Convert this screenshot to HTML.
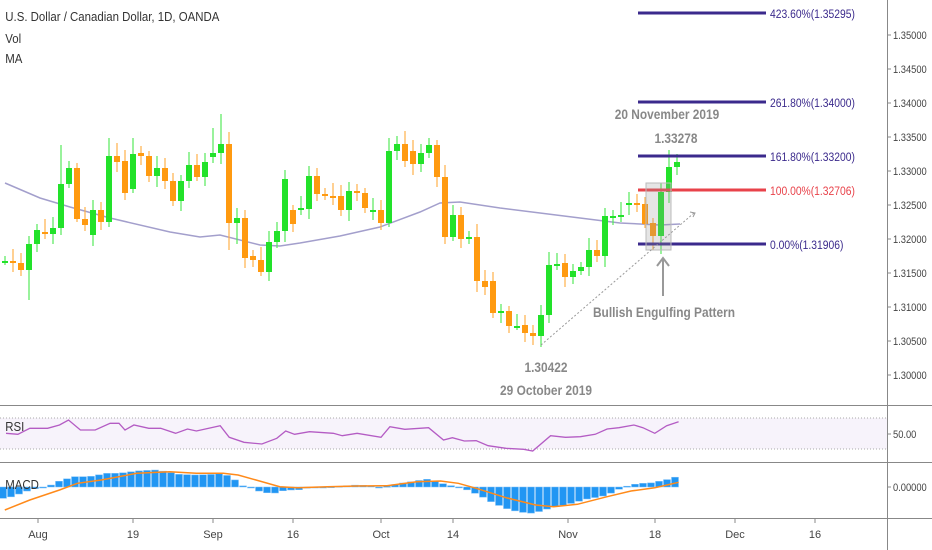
<!DOCTYPE html>
<html><head><meta charset="utf-8"><style>
html,body{margin:0;padding:0;background:#fff;width:932px;height:550px;overflow:hidden}
svg{display:block;font-family:"Liberation Sans",sans-serif}
</style></head><body>
<svg id="c" width="932" height="550" xmlns="http://www.w3.org/2000/svg">
<rect width="932" height="550" fill="#fff"/>
<rect x="0" y="418" width="887" height="31" fill="#f7f3fb"/>
<line x1="0" y1="418" x2="887" y2="418" stroke="#aaa" stroke-dasharray="1,2"/>
<line x1="0" y1="449" x2="887" y2="449" stroke="#aaa" stroke-dasharray="1,2"/>
<line x1="0" y1="405.5" x2="932" y2="405.5" stroke="#888"/>
<line x1="0" y1="462.5" x2="932" y2="462.5" stroke="#888"/>
<line x1="0" y1="518.5" x2="932" y2="518.5" stroke="#888"/>
<line x1="887.5" y1="0" x2="887.5" y2="550" stroke="#888"/>
<g id="g"></g>
<g stroke-width="3">
<line x1="638" y1="13" x2="766" y2="13" stroke="#3b2a8c"/>
<line x1="638" y1="102" x2="766" y2="102" stroke="#3b2a8c"/>
<line x1="638" y1="156" x2="766" y2="156" stroke="#3b2a8c"/>
<line x1="638" y1="190" x2="766" y2="190" stroke="#e8424a"/>
<line x1="638" y1="244" x2="766" y2="244" stroke="#3b2a8c"/>
</g>
<g font-size="12" fill="#3b2a8c" transform="translate(770,0) scale(0.86,1)">
<text x="0" y="18">423.60%(1.35295)</text>
<text x="0" y="107">261.80%(1.34000)</text>
<text x="0" y="161">161.80%(1.33200)</text>
<text x="0" y="195" fill="#e8424a">100.00%(1.32706)</text>
<text x="0" y="249">0.00%(1.31906)</text>
</g>
<rect x="646" y="183" width="25" height="67" fill="#999" fill-opacity="0.25" stroke="#bbb"/>
<line x1="541" y1="345" x2="694" y2="213" stroke="#999" stroke-dasharray="2,2"/>
<path d="M690,212 L695,213 L693,217" fill="none" stroke="#999"/>
<line x1="663" y1="259" x2="663" y2="296" stroke="#999" stroke-width="2"/>
<path d="M657,266 L663,258 L669,266" fill="none" stroke="#999" stroke-width="2"/>
<g fill="#888" font-size="14" font-weight="bold" text-anchor="middle">
<text x="664" y="317" transform="translate(664,0) scale(0.85,1) translate(-664,0)">Bullish Engulfing Pattern</text>
<text x="546" y="372" transform="translate(546,0) scale(0.85,1) translate(-546,0)">1.30422</text>
<text x="546" y="395" transform="translate(546,0) scale(0.85,1) translate(-546,0)">29 October 2019</text>
<text x="667" y="119" transform="translate(667,0) scale(0.85,1) translate(-667,0)">20 November 2019</text>
<text x="676" y="143" transform="translate(676,0) scale(0.85,1) translate(-676,0)">1.33278</text>
</g>
<g fill="#333" font-size="13" transform="scale(0.88,1)">
<text x="6" y="21">U.S. Dollar / Canadian Dollar, 1D, OANDA</text>
<text x="6" y="43">Vol</text>
<text x="6" y="63">MA</text>
<text x="6" y="431">RSI</text>
<text x="6" y="489">MACD</text>
</g>
<g fill="#444" font-size="11" transform="translate(893,0) scale(0.85,1)">
<text x="0" y="39">1.35000</text><text x="0" y="73">1.34500</text><text x="0" y="107">1.34000</text>
<text x="0" y="141">1.33500</text><text x="0" y="175">1.33000</text><text x="0" y="209">1.32500</text>
<text x="0" y="243">1.32000</text><text x="0" y="277">1.31500</text><text x="0" y="311">1.31000</text>
<text x="0" y="345">1.30500</text><text x="0" y="379">1.30000</text>
<text x="0" y="438">50.00</text><text x="0" y="491">0.00000</text>
</g>
<g stroke="#888">
<line x1="887" y1="35" x2="891" y2="35"/><line x1="887" y1="69" x2="891" y2="69"/><line x1="887" y1="103" x2="891" y2="103"/>
<line x1="887" y1="137" x2="891" y2="137"/><line x1="887" y1="171" x2="891" y2="171"/><line x1="887" y1="205" x2="891" y2="205"/>
<line x1="887" y1="239" x2="891" y2="239"/><line x1="887" y1="273" x2="891" y2="273"/><line x1="887" y1="307" x2="891" y2="307"/>
<line x1="887" y1="341" x2="891" y2="341"/><line x1="887" y1="375" x2="891" y2="375"/>
<line x1="887" y1="434" x2="891" y2="434"/><line x1="887" y1="487" x2="891" y2="487"/>
</g>
<g id="t" fill="#444" font-size="11" text-anchor="middle"></g>
</svg>
<script>
var NS="http://www.w3.org/2000/svg",g=document.getElementById('g');
function el(n,a,p){var e=document.createElementNS(NS,n);for(var k in a)e.setAttribute(k,a[k]);(p||g).appendChild(e);return e;}
var tl=[["Aug",38],["19",133],["Sep",213],["16",293],["Oct",381],["14",453],["Nov",568],["18",655],["Dec",735],["16",815]];
var T=document.getElementById('t');
tl.forEach(function(a){var t=el('text',{x:a[1],y:538},T);t.textContent=a[0];el('line',{x1:a[1],y1:519,x2:a[1],y2:523,stroke:'#888'});});
var ma=[[5,183],[40,198],[70,207],[110,218],[170,232],[200,237],[220,235],[260,245],[280,246],[300,243],[340,236],[380,227],[420,212],[440,203],[460,202],[500,208],[540,213],[580,218],[620,223],[660,225],[680,224]];
el('polyline',{points:ma.map(function(p){return p.join(',')}).join(' '),fill:'none',stroke:'#a39fcc','stroke-width':1.5});
var C=[[261,261],[261,263],[263,270],[270,244],[244,230],[232,234],[234,228],[228,184],[184,168],[168,219],[219,225],[235,210],[210,222],[222,156],[156,162],[161,193],[189,154],[153,156],[156,176],[176,168],[168,181],[181,201],[201,181],[181,165],[165,177],[177,162],[157,153],[153,144],[144,223],[223,218],[218,258],[256,260],[260,272],[272,242],[242,231],[231,179],[210,224],[210,208],[209,176],[176,194],[194,196],[196,196],[196,210],[210,191],[191,193],[193,208],[210,210],[210,223],[223,151],[151,144],[144,161],[151,164],[164,153],[153,145],[145,177],[177,237],[237,215],[215,239],[238,237],[237,281],[281,287],[281,313],[313,311],[311,326],[326,326],[325,333],[333,336],[336,315],[315,265],[265,264],[263,277],[277,271],[271,267],[267,250],[250,256],[256,216],[217,216],[217,215],[205,203],[203,205],[204,224],[223,236],[236,192],[192,167],[167,162]];
var hi={7:145,13:138,16:138,26:128,27:114,48:138,49:136,35:170,83:150,67:305,82:183};
var lo={3:300,28:250,29:244,66:345,65:342,81:250,82:254,9:222};
C.forEach(function(c,i){
 var x=5+i*8,o=c[0],cl=c[1],up=cl<o||(o==cl&&i%2==0);
 var top=Math.min(o,cl),bot=Math.max(o,cl);
 var h=hi[i]||top-5-((i*7)%9),l=lo[i]||bot+4+((i*5)%8);
 var col=up?'#22e22a':'#ff9a10',wc=up?'#55ea5a':'#ffb04a';
 el('line',{x1:x,y1:h,x2:x,y2:l,stroke:wc,'stroke-width':1.2});
 el('rect',{x:x-3,y:top,width:6,height:Math.max(bot-top,2),fill:col});
});
var rsi=[[10,85],[30,88],[50,70],[80,70],[100,60],[115,45],[135,75],[160,75],[185,55],[200,55],[210,75],[225,60],[250,70],[270,70],[295,85],[315,72],[330,78],[370,62],[385,97],[410,112],[440,117],[465,100],[480,78],[495,88],[520,80],[560,85],[575,92],[600,85],[640,97],[655,65],[680,73],[720,68],[745,105],[760,98],[780,108],[800,107],[820,122],[850,130],[880,133],[895,138],[925,92],[950,97],[975,95],[1000,88],[1020,72],[1040,68],[1065,60],[1080,68],[1100,85],[1120,62],[1140,50]];
el('polyline',{points:rsi.map(function(p){return (p[0]/1.68).toFixed(1)+','+(p[1]/3+405).toFixed(1)}).join(' '),fill:'none',stroke:'#b45cc4','stroke-width':1.3});
var mh=[[5,280],[20,275],[35,265],[50,255],[65,248],[80,245],[100,228],[125,215],[150,215],[180,205],[200,205],[230,198],[260,195],[280,200],[300,208],[330,210],[360,208],[375,205],[395,225],[410,245],[425,250],[440,262],[460,265],[480,255],[500,255],[520,248],[560,245],[600,240],[620,242],[640,248],[660,240],[680,233],[700,228],[715,222],[735,230],[750,240],[770,245],[790,258],[810,275],[830,295],[850,310],[870,320],[890,325],[910,318],[930,305],[950,300],[970,290],[990,280],[1010,275],[1030,262],[1045,248],[1060,240],[1075,235],[1090,235],[1110,228],[1125,222],[1140,213]];
function interp(zx){for(var i=0;i<mh.length-1;i++){if(zx<=mh[i+1][0]){var a=mh[i],b=mh[i+1],t=(zx-a[0])/(b[0]-a[0]);return a[1]+(b[1]-a[1])*Math.max(0,t);}}return mh[mh.length-1][1];}
var zero=487;
for(var i=0;i<85;i++){var x=3+i*8,zy=interp(x*1.68),y=zy/3+405;
 var t=Math.min(y,zero),h=Math.abs(y-zero);if(h<1)h=1;
 el('rect',{x:x-3.5,y:t,width:7,height:h,fill:'#2196f3',stroke:'#7fc0f8','stroke-width':0.5});}
var sg=[[8,315],[50,285],[100,255],[130,235],[170,225],[230,205],[285,200],[330,205],[375,205],[400,210],[430,225],[470,245],[500,248],[550,245],[600,243],[650,242],[700,230],[740,228],[770,235],[800,250],[850,278],[900,300],[930,305],[970,298],[1020,275],[1060,258],[1100,248],[1140,232]];
el('polyline',{points:sg.map(function(p){return (p[0]/1.68).toFixed(1)+','+(p[1]/3+405).toFixed(1)}).join(' '),fill:'none',stroke:'#ff8a1a','stroke-width':1.5});
</script>
</body></html>
